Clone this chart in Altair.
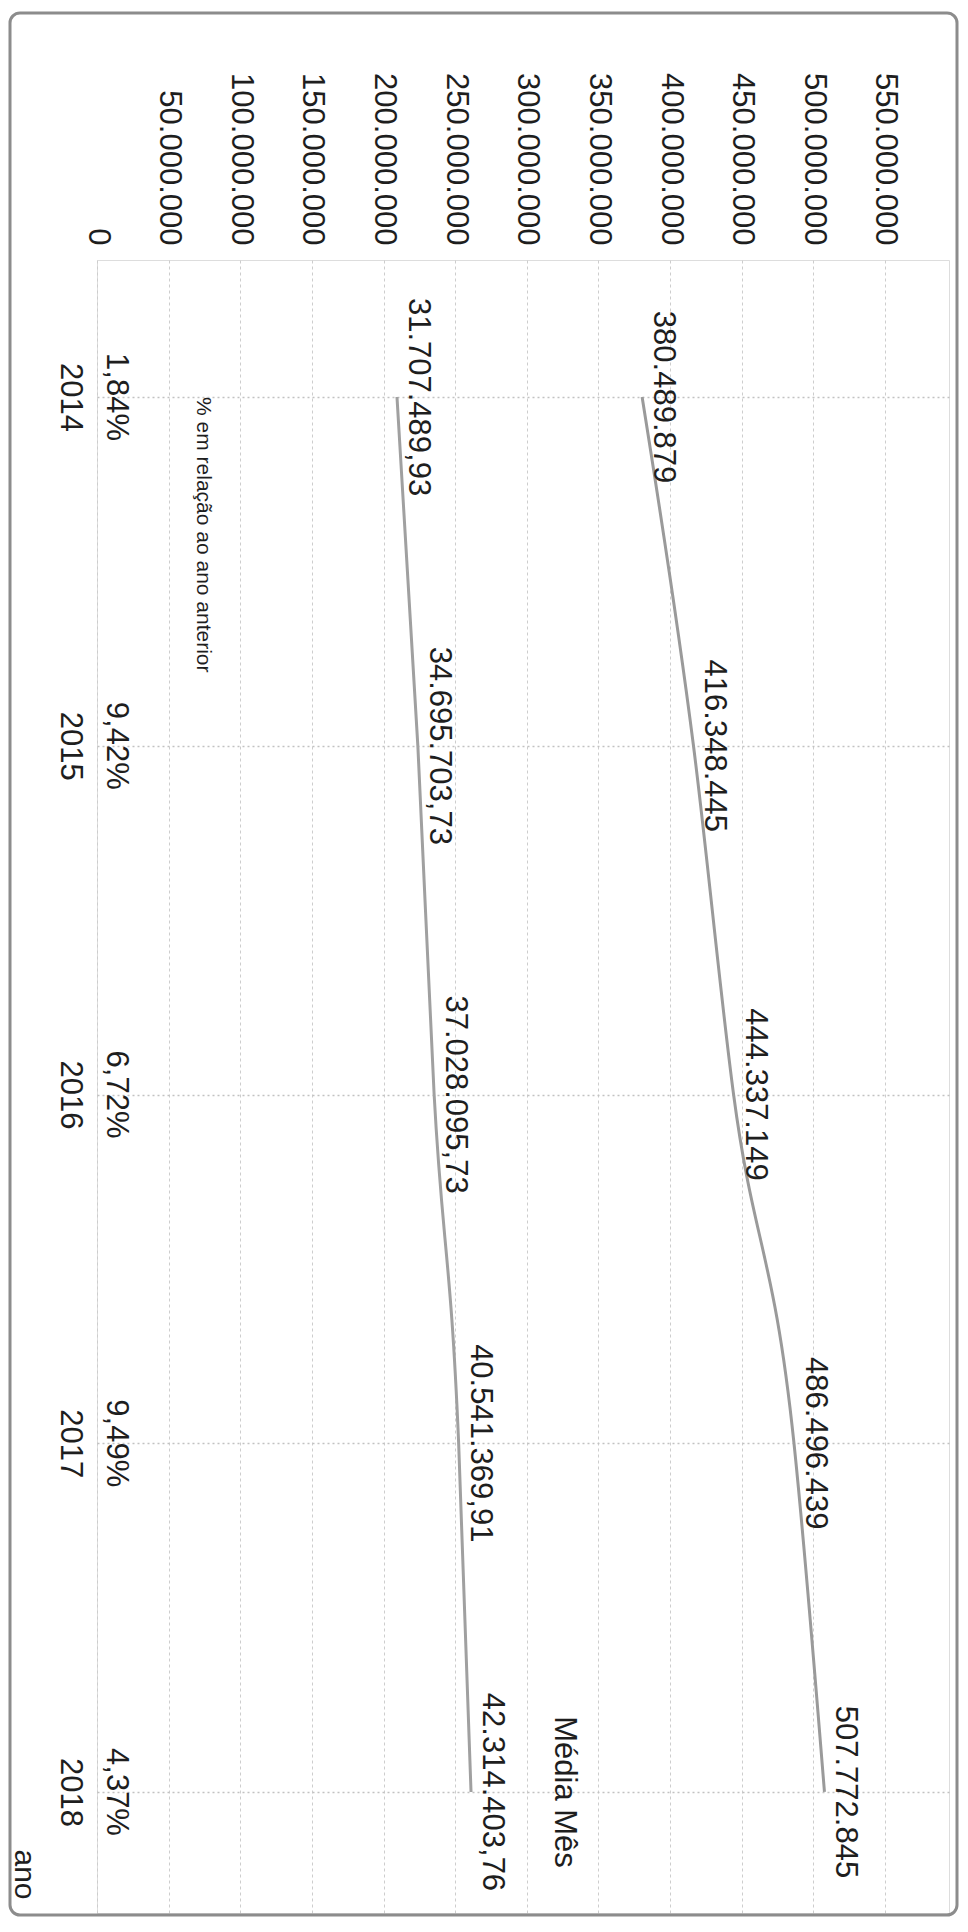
import altair as alt
import pandas as pd

# ---- data ----
anos = [2014, 2015, 2016, 2017, 2018]
total_ano = [380489879, 416348445, 444337149, 486496439, 507772845]
media_mes = [31707489.93, 34695703.73, 37028095.73, 40541369.91, 42314403.76]
variacao_pct = [1.84, 9.42, 6.72, 9.49, 4.37]
valor_ticks = [i * 25000000 for i in range(0, 23)]  # grid every 25M, labels every 50M
nota_texto = "% em relação ao ano anterior"
serie_texto = "Média Mês"
eixo_titulo = "ano"

FONT = "Liberation Sans"
TXT = "#1e1e1e"
FS = 31

df = pd.DataFrame({"ano": anos, "total": total_ano, "media": media_mes, "pct": variacao_pct})
nota_df = pd.DataFrame({"ano": [anos[0]], "texto": [nota_texto]})
serie_df = pd.DataFrame({"ano": [anos[-1]], "media": [media_mes[-1]], "texto": [serie_texto]})
frame_df = pd.DataFrame({"k": [0]})

y_enc = alt.Y(
    "ano:Q",
    scale=alt.Scale(domain=[2013.607, 2018.347], reverse=True, nice=False, zero=False),
    axis=alt.Axis(
        values=anos, format="d", labelAngle=90, labelAlign="center", labelBaseline="top",
        labelPadding=13, tickSize=0, ticks=False, domain=False, labelOverlap=False, labelFlush=False,
        labelFont=FONT, labelFontSize=FS, labelColor=TXT,
        grid=True, gridColor="#c2c2c2", gridDash=[2, 3], gridWidth=1.5,
        title=eixo_titulo, titleFont=FONT, titleFontSize=30, titleFontWeight="normal", titleColor=TXT,
        titleAngle=90, titleAlign="center", titleBaseline="middle", titleX=-74, titleY=1614,
    ),
)

x_primary = alt.X(
    "total:Q",
    scale=alt.Scale(domain=[0, 594700000], nice=False, zero=False),
    axis=alt.Axis(
        orient="top", values=valor_ticks, format=",d",
        labelExpr="datum.value % 50000000 == 0 ? datum.label : ''",
        labelAngle=90, labelAlign="right", labelBaseline="middle", labelPadding=15,
        tickSize=0, ticks=False, domain=False, labelOverlap=False, labelFlush=False,
        labelFont=FONT, labelFontSize=FS, labelColor=TXT,
        grid=True, gridColor="#cdcdcd", gridDash=[3, 3], gridWidth=1,
        title=None,
    ),
)

base = alt.Chart(df)

line_total = base.mark_line(color="#9a9a9a", strokeWidth=3, interpolate="monotone").encode(
    x=x_primary, y=y_enc, order=alt.Order("ano:Q")
)
text_total = base.mark_text(
    angle=90, align="center", baseline="alphabetic", dy=-12, font=FONT, fontSize=FS, color=TXT
).encode(x="total:Q", y=y_enc, text=alt.Text("total:Q", format=",d"))

pct_text = base.transform_calculate(pfrac="datum.pct / 100").mark_text(
    angle=90, align="center", baseline="alphabetic", dy=-10, font=FONT, fontSize=FS, color=TXT
).encode(x=alt.datum(0), y=y_enc, text=alt.Text("pfrac:Q", format=".2%"))

nota = alt.Chart(nota_df).mark_text(
    angle=90, align="left", baseline="middle", dy=-106, font=FONT, fontSize=21, color=TXT
).encode(x=alt.datum(0), y=y_enc, text="texto:N")

primary = alt.layer(line_total, text_total, pct_text, nota)

x_secondary = alt.X("media:Q", scale=alt.Scale(domain=[-11270000, 110790000], nice=False, zero=False), axis=None)

line_media = base.mark_line(color="#a0a0a0", strokeWidth=3, interpolate="monotone").encode(
    x=x_secondary, y=y_enc, order=alt.Order("ano:Q")
)
text_media = base.mark_text(
    angle=90, align="center", baseline="alphabetic", dy=-12, font=FONT, fontSize=FS, color=TXT
).encode(x=x_secondary, y=y_enc, text=alt.Text("media:Q", format=",.2f"))
serie_label = alt.Chart(serie_df).mark_text(
    angle=90, align="center", baseline="middle", dy=-93, font=FONT, fontSize=FS, color=TXT
).encode(x=x_secondary, y=y_enc, text="texto:N")

secondary = alt.layer(line_media, text_media, serie_label)

frame = alt.Chart(frame_df).mark_rect(
    fillOpacity=0, stroke="#8c8c8c", strokeWidth=3, cornerRadius=10
).encode(x=alt.value(-87), x2=alt.value(860), y=alt.value(-247), y2=alt.value(1655))

chart = (
    alt.layer(primary, secondary, frame)
    .resolve_scale(x="independent")
    .properties(
        width=852, height=1653, autosize="none",
        padding={"left": 89, "top": 252, "right": 10, "bottom": 4},
        background="white",
    )
    .configure_view(strokeWidth=0)
    .configure(locale={"number": {"decimal": ",", "thousands": ".", "grouping": [3], "currency": ["R$", ""]}})
)

chart.save(
    "out.html",
    embed_options={
        "renderer": "svg",
        "actions": False,
        "formatLocale": {"decimal": ",", "thousands": ".", "grouping": [3], "currency": ["R$", ""]},
    },
)
